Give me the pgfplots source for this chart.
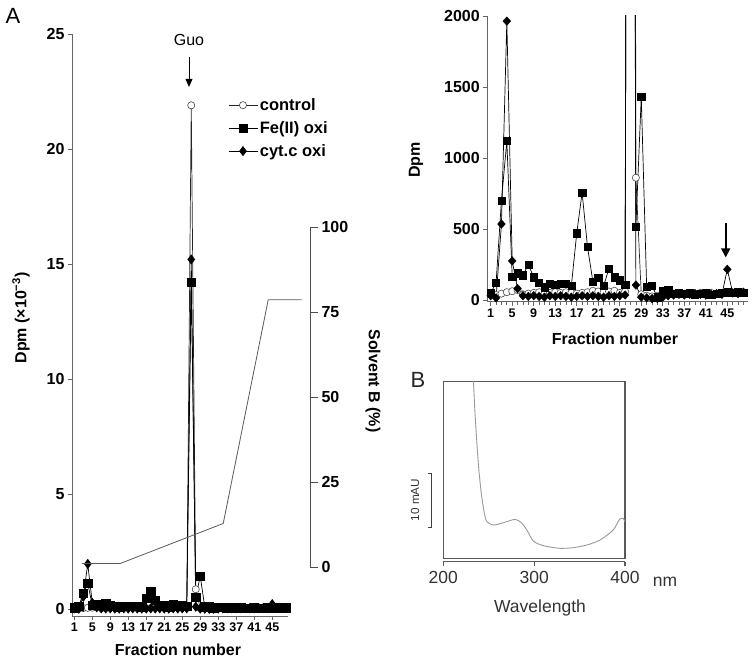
\documentclass[border=0pt]{standalone}
\usepackage{pgfplots}
\pgfplotsset{compat=1.18}
\usepackage{pgfplotstable}
\usepackage{fontspec}
\setmainfont{Liberation Sans}
\usetikzlibrary{arrows.meta}

\pgfplotstableread{
f ctrl fe cyt
1 40 50 30
2 35 120 15
3 45 700 535
4 55 1120 1964
5 62 165 275
6 70 188 80
7 40 175 30
8 45 250 25
9 50 160 30
10 55 122 25
11 45 90 20
12 50 117 30
13 55 110 25
14 50 117 30
15 55 117 25
16 50 100 20
17 45 470 25
18 50 756 30
19 55 375 25
20 65 130 30
21 60 157 25
22 55 98 20
23 60 223 30
24 65 160 25
25 50 140 30
26 60 110 35
27 21900 14200 15200
28 861 516 105
29 40 1431 20
30 30 94 15
31 25 100 10
32 30 20 10
33 35 66 20
34 40 70 30
35 45 45 35
36 50 50 40
37 45 45 35
38 50 50 40
39 45 40 45
40 50 45 40
41 45 50 35
42 50 40 40
43 45 45 45
44 50 50 40
45 55 55 216
46 50 50 50
47 55 55 45
48 50 50 55
}\dpmdata

\pgfplotsset{
  ctrlmark/.style={mark=*, mark size=3.6pt, mark options={fill=white, draw=black!75, line width=0.6pt, solid}},
  femark/.style={mark=square*, mark size=4.1pt, mark options={fill=black, draw=black, solid}},
  cytmark/.style={mark=diamond*, mark size=4.5pt, mark options={fill=black, draw=black, solid}},
  ctrlmarkR/.style={mark=*, mark size=3.6pt, mark options={fill=white, draw=black!70, line width=0.6pt, solid}},
  femarkR/.style={mark=square*, mark size=3.6pt, mark options={fill=black, draw=black, solid}},
  cytmarkR/.style={mark=diamond*, mark size=4.3pt, mark options={fill=black, draw=black, solid, xscale=1.2}},
}

\newcommand{\fA}{\bfseries\fontsize{16}{19}\selectfont}

\begin{document}
\begin{tikzpicture}
\useasboundingbox (0pt,0pt) rectangle (754pt,660pt);

% ---------------- Panel A (left) ----------------
\begin{axis}[
  at={(72pt,44pt)}, anchor=south west, scale only axis,
  width=216pt, height=582pt,
  xmin=0.5, xmax=48.5, ymin=-0.3, ymax=25,
  axis x line=bottom, axis y line=left,
  axis line style={-, black!60, line width=0.8pt},
  xtick={1,5,...,45}, ytick={0,5,...,25},
  tick align=outside, major tick length=4pt,
  tick style={black!60, line width=0.8pt},
  /pgf/number format/assume math mode=true,
  xticklabel style={font=\bfseries\fontsize{12.5}{14}\selectfont, yshift=1pt},
  yticklabel style={font=\bfseries\fontsize{16}{18}\selectfont},
  clip=false,
  legend image code/.code={\draw[mark repeat=2,mark phase=2,#1] plot coordinates {(0pt,0pt) (14.5pt,0pt) (29pt,0pt)};},
  legend style={draw=none, fill=none, at={(axis description cs:0.722,0.893)}, anchor=north west,
     inner sep=0pt, row sep=5.5pt, font=\bfseries\fontsize{16.5}{19}\selectfont,
     cells={anchor=west}, /tikz/every even column/.append style={column sep=2pt}},
]
\addplot[black!85, line width=0.7pt, ctrlmark] table[x=f, y expr=\thisrow{ctrl}/1000] {\dpmdata};
\addlegendentry{control}
\addplot[black, line width=0.7pt, femark] table[x=f, y expr=\thisrow{fe}/1000] {\dpmdata};
\addlegendentry{Fe(II) oxi}
\addplot[black, line width=0.7pt, cytmark] table[x=f, y expr=\thisrow{cyt}/1000] {\dpmdata};
\addlegendentry{cyt.c oxi}
\draw[black, line width=0.9pt, -{Triangle[length=8pt,width=7pt]}] (axis cs:26.5,24.0) -- (axis cs:26.5,22.7);
\end{axis}

% Solvent B axis
\begin{axis}[
  at={(72pt,93pt)}, anchor=south west, scale only axis,
  width=238pt, height=340pt,
  xmin=0.5, xmax=53.38, ymin=0, ymax=100,
  axis x line=none, axis y line=right,
  axis line style={-, black!70, line width=0.8pt},
  ytick={0,25,...,100},
  tick align=outside, major tick length=8pt,
  tick style={black!70, line width=0.8pt},
  /pgf/number format/assume math mode=true,
  yticklabel style={font=\bfseries\fontsize{16}{18}\selectfont},
  clip=false,
]
\addplot[black!65, line width=0.8pt] coordinates {(2.71,1) (11.16,1) (34.1,12.8) (44.1,78.6) (51.5,78.6)};
\end{axis}

\node[font=\fontsize{16}{19}\selectfont] at (189pt,620pt) {Guo};
\node[font=\fontsize{22}{26}\selectfont] at (13pt,644pt) {A};
\node[rotate=90, font=\fA] at (21pt,342pt) {Dpm (×10\textsuperscript{−3})};
\node[rotate=-90, font=\fA] at (373pt,279pt) {Solvent B (\%)};
\node[font=\fA] at (178pt,10pt) {Fraction number};

% ---------------- Panel A (right, zoom) ----------------
\begin{axis}[
  at={(487.3pt,358.3pt)}, anchor=south west, scale only axis,
  width=260.7pt, height=285.7pt,
  xmin=0.37, xmax=48.85, ymin=-12, ymax=2000,
  axis x line=bottom, axis y line=left,
  axis line style={-, black!60, line width=0.8pt},
  xtick={1,5,...,45}, minor xtick={1,...,48}, ytick={0,500,...,2000},
  tick align=outside, major tick length=4pt, minor tick length=3pt,
  tick style={black!60, line width=0.7pt},
  /pgf/number format/assume math mode=true,
  /pgf/number format/1000 sep={},
  xticklabel style={font=\bfseries\fontsize{12.5}{14}\selectfont},
  yticklabel style={font=\bfseries\fontsize{16}{18}\selectfont},
  clip mode=individual,
]
\addplot[black!85, line width=0.7pt, no marks] table[x=f, y=ctrl] {\dpmdata};
\addplot[black, line width=0.7pt, no marks] table[x=f, y=fe] {\dpmdata};
\addplot[black, line width=0.7pt, no marks] table[x=f, y=cyt] {\dpmdata};
\addplot[only marks, ctrlmarkR, restrict y to domain=-100:2100] table[x=f, y=ctrl] {\dpmdata};
\addplot[only marks, femarkR, restrict y to domain=-100:2100] table[x=f, y=fe] {\dpmdata};
\addplot[only marks, cytmarkR, restrict y to domain=-100:2100] table[x=f, y=cyt] {\dpmdata};
\draw[black, line width=1.8pt, -{Triangle[length=9pt,width=9pt]}] (axis cs:44.7,540) -- (axis cs:44.7,300);
\end{axis}
\node[rotate=90, font=\fA] at (416pt,500pt) {Dpm};
\node[font=\fA] at (615pt,321pt) {Fraction number};

% ---------------- Panel B ----------------
\begin{axis}[
  at={(443.3pt,101.7pt)}, anchor=south west, scale only axis,
  width=181.7pt, height=176.6pt,
  xmin=200, xmax=400, ymin=0, ymax=32.5,
  xtick=\empty, ytick=\empty,
  axis line style={black!65, line width=1.3pt},
]
\addplot[black!40, line width=0.9pt, smooth, tension=0.4] coordinates {
(232.6,34) (233.2,32.5) (234.9,26.7) (238.5,17.5) (242.3,11.3) (247,7.04) (255,6.13)
(266,6.54) (279,7.17) (286,6.54) (292,5.2) (299,3.18) (310,2.32) (328,1.84) (343,1.95)
(358,2.44) (372.5,3.36) (387,5.2) (394,7.17) (398,7.35) (400,6.73)};
\end{axis}
\begin{axis}[
  at={(443.3pt,98.3pt)}, anchor=south west, scale only axis,
  width=181.7pt, height=10pt,
  xmin=200, xmax=400, ymin=0, ymax=1,
  axis x line=bottom, axis y line=none,
  axis line style={-, black!65, line width=1.3pt},
  xtick={200,300,400}, tick align=outside, major tick length=4pt,
  tick style={black!65, line width=1.1pt},
  /pgf/number format/assume math mode=true,
  xticklabel style={font=\fontsize{17.5}{20}\selectfont, text=black!80, yshift=-2pt},
]
\addplot[draw=none] coordinates {(200,0.5)};
\end{axis}
\node[font=\fontsize{17.5}{20}\selectfont, text=black!80] at (665pt,78.3pt) {nm};
\node[font=\fontsize{17.5}{20}\selectfont, text=black!80] at (540pt,52pt) {Wavelength};
\draw[black!75, line width=1pt] (428pt,186.7pt) -- (431pt,186.7pt) -- (431pt,132.3pt) -- (428pt,132.3pt);
\node[rotate=90, font=\fontsize{11.7}{14}\selectfont, text=black!80] at (415pt,160pt) {10 mAU};
\node[font=\fontsize{22}{26}\selectfont, text=black!85] at (418pt,280pt) {B};
\end{tikzpicture}
\end{document}
